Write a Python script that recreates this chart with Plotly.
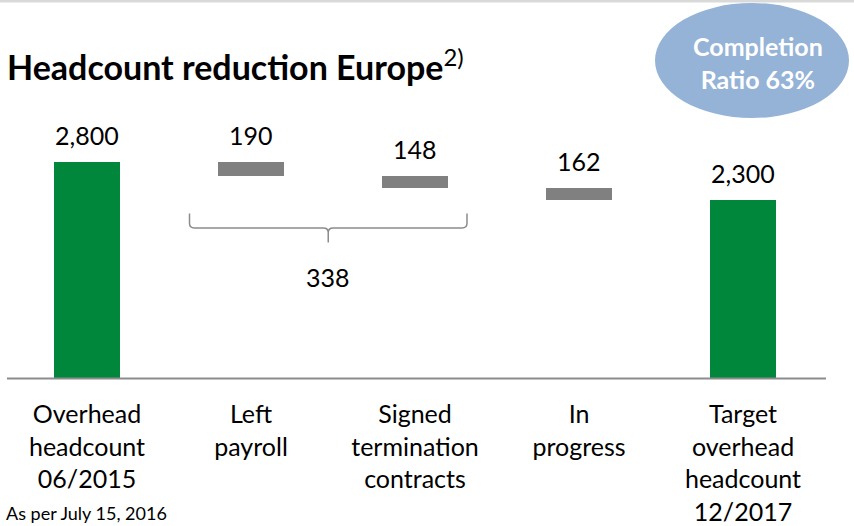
import plotly.graph_objects as go

# ---- data ----
categories = ["Overhead<br>headcount<br>06/2015", "Left<br>payroll",
              "Signed<br>termination<br>contracts", "In<br>progress",
              "Target<br>overhead<br>headcount<br>12/2017"]
start_value = 2800
reductions = [190, 148, 162]
target_value = 2300
bracket_items = [0, 1]  # indexes into reductions summed under the brace
title_text = "Headcount reduction Europe"
title_sup = "2)"
badge_text = "Completion<br>Ratio 63%"
footnote = "As per July 15, 2016"

# ---- derived ----
values = [start_value] + reductions + [target_value]
bases = [0]
running = start_value
for r in reductions:
    running -= r
    bases.append(running)
bases.append(0)
tops = [b + v for b, v in zip(bases, values)]
GREEN = "#00873c"
GRAY = "#808080"
colors = [GREEN] + [GRAY] * len(reductions) + [GREEN]
xs = list(range(len(categories)))

W, H = 854, 526
ML, MR, MT, MB = 5, 29, 0, 148
PW, PH = W - ML - MR, H - MT - MB
YMAX = PH / 0.07725


def px(x):
    return (x - ML) / PW


def py(y):
    return (H - MB - y) / PH


FONT = "Lato"

fig = go.Figure()
fig.add_trace(go.Bar(
    x=xs, y=values, base=bases, width=0.4,
    marker=dict(color=colors, line=dict(width=0)),
    hoverinfo="skip",
))

ann = []
for x, t, v in zip(xs, tops, values):
    ann.append(dict(x=x, y=t, xref="x", yref="y", text=f"{v:,}",
                    showarrow=False, yanchor="middle", yshift=27,
                    font=dict(size=25, color="#000", family=FONT)))

# brace
bx0, bx1 = 0.625, 2.317
bmid = (bx0 + bx1) / 2
by = 1942
byt = 2130
byb = 1754
dx = 0.03
dy = 60
path = (f"M {bx0},{byt} L {bx0},{by+dy} Q {bx0},{by} {bx0+dx},{by} "
        f"L {bmid-dx},{by} Q {bmid},{by} {bmid},{by-dy} L {bmid},{byb} "
        f"M {bmid},{by-dy} Q {bmid},{by} {bmid+dx},{by} "
        f"L {bx1-dx},{by} Q {bx1},{by} {bx1},{by+dy} L {bx1},{byt}")
shapes = [
    dict(type="path", path=path, xref="x", yref="y",
         line=dict(color="#8c8c8c", width=1.5)),
    dict(type="line", xref="paper", yref="paper", x0=px(7), x1=px(826),
         y0=py(378.5), y1=py(378.5), line=dict(color="#8c8c8c", width=2)),
    dict(type="rect", xref="paper", yref="paper", x0=px(0), x1=px(854),
         y0=py(2.5), y1=py(0), line=dict(width=0), fillcolor="#d9d9d9"),
    dict(type="circle", xref="paper", yref="paper", x0=px(655), x1=px(849),
         y0=py(118), y1=py(3), line=dict(color="#95b3d7", width=0),
         fillcolor="#95b3d7"),
]
bracket_total = sum(reductions[i] for i in bracket_items)
ann.append(dict(x=bmid, y=by, xref="x", yref="y", text=f"{bracket_total:,}",
                showarrow=False, yanchor="middle", yshift=-49,
                font=dict(size=25, color="#000", family=FONT)))

ann.append(dict(x=px(5), y=py(65), xref="paper", yref="paper",
                xanchor="left", yanchor="middle", showarrow=False,
                text=f"<b>{title_text}</b><sup>{title_sup}</sup>",
                font=dict(size=34, color="#000", family=FONT)))
ann.append(dict(x=px(758), y=py(63), xref="paper", yref="paper",
                xanchor="center", yanchor="middle", showarrow=False,
                text=f"<b>{badge_text}</b>",
                font=dict(size=25, color="#fff", family=FONT)))
ann.append(dict(x=px(4), y=py(500), xref="paper", yref="paper",
                xanchor="left", yanchor="top", showarrow=False,
                text=footnote,
                font=dict(size=18, color="#000", family=FONT)))

fig.update_layout(
    width=W, height=H,
    margin=dict(l=ML, r=MR, t=MT, b=MB, pad=0),
    paper_bgcolor="white", plot_bgcolor="white",
    showlegend=False, bargap=0,
    shapes=shapes, annotations=ann,
    font=dict(family=FONT, size=25, color="#000"),
    xaxis=dict(range=[-0.5, len(categories) - 0.5], tickmode="array",
               tickvals=xs, ticktext=categories, showgrid=False,
               zeroline=False, showline=False, ticks="outside",
               ticklen=14, tickcolor="rgba(0,0,0,0)",
               tickfont=dict(size=25, family=FONT, color="#000"),
               fixedrange=True),
    yaxis=dict(range=[0, YMAX], visible=False, fixedrange=True),
)

fig.write_html("out.html", config={"displayModeBar": False},
               post_script="document.body.style.margin='0';")
